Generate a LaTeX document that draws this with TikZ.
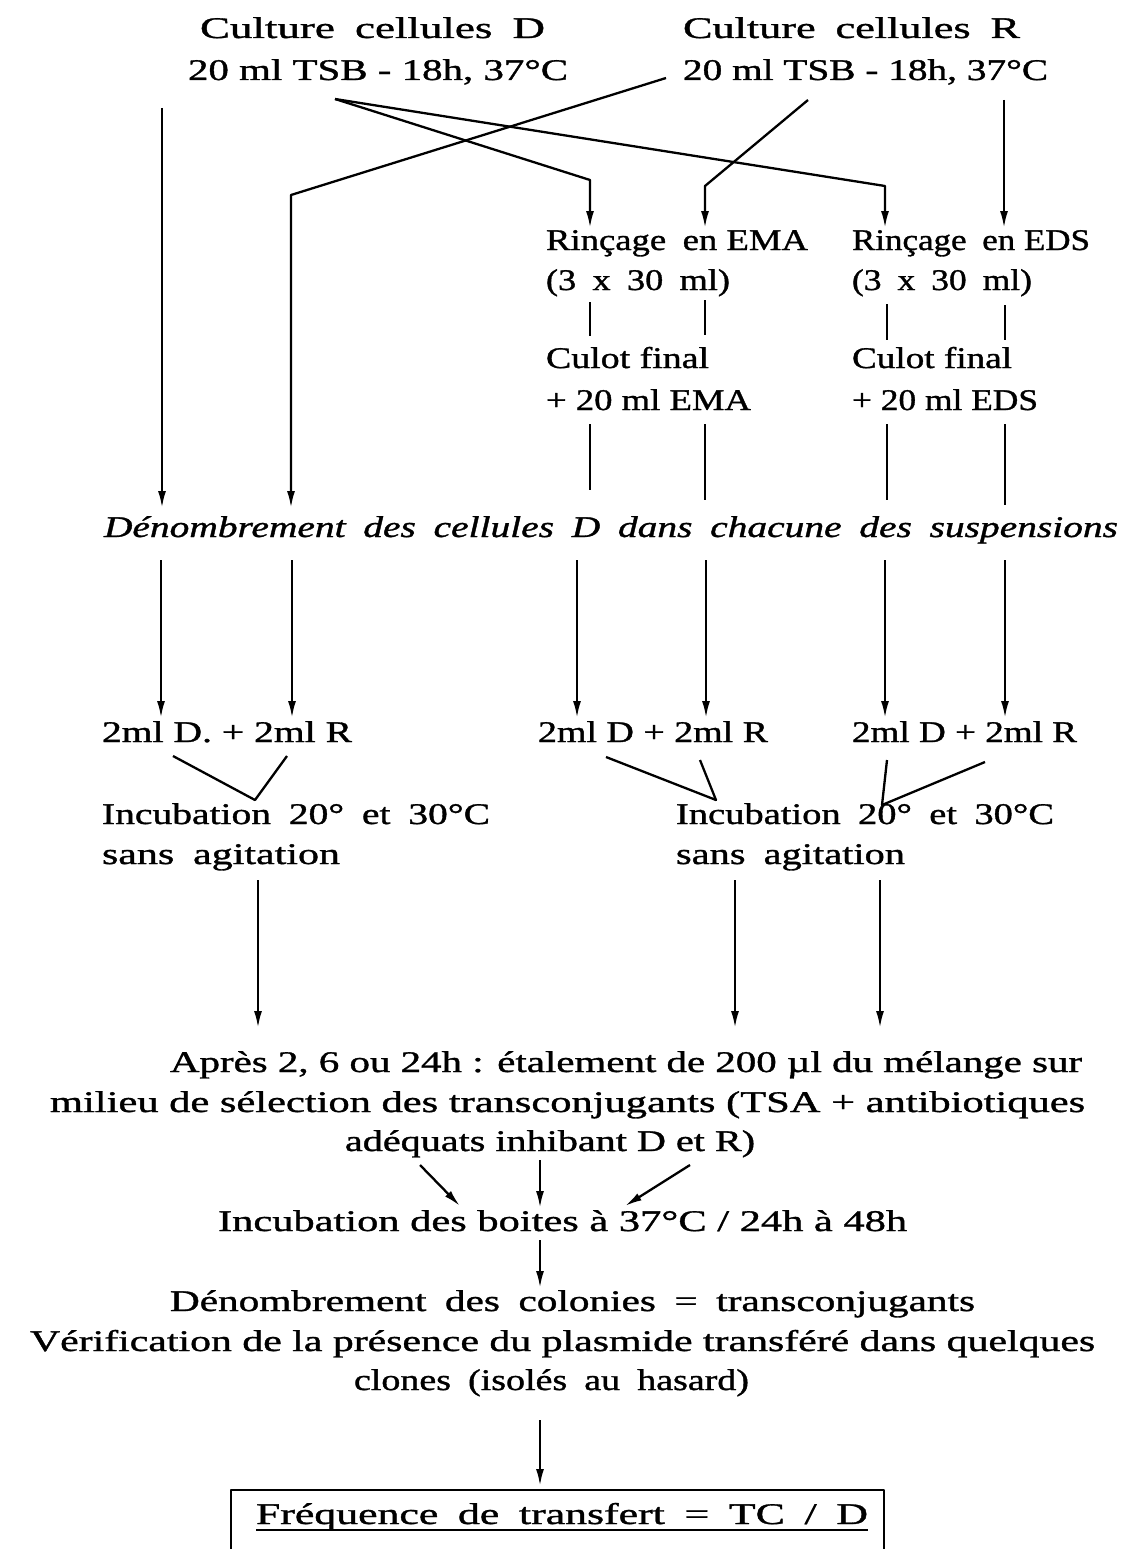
\documentclass[tikz,border=0pt]{standalone}
\usepackage{fontspec}
\usepackage{graphicx}
\setmainfont[FakeBold=1.0]{Liberation Serif}
\usetikzlibrary{arrows.meta}
\newcommand\fl[2]{\resizebox{#1pt}{\height}{#2}}
\newcommand\ws{\hspace{0.45em}}
\begin{document}
\begin{tikzpicture}[x=1pt,y=-1pt,
  t/.style={inner sep=0pt,outer sep=0pt,anchor=base west,font=\fontsize{30}{36}\selectfont},
  ln/.style={line width=2.3pt,line join=round},
  ar/.style={ln,-{Latex[length=17pt,width=8pt]}}]
\useasboundingbox (0,0) rectangle (1120,1549);
\fill[white] (0,0) rectangle (1120,1549);
% top
\node[t] (L1) at (200,38) {\fl{345}{Culture\ws cellules\ws D}};
\node[t] (L2) at (188,80) {\fl{380}{20 ml TSB - 18h, 37°C}};
\node[t] (R1) at (683,38) {\fl{337}{Culture\ws cellules\ws R}};
\node[t] (R2) at (683,80) {\fl{365}{20 ml TSB - 18h, 37°C}};
% rincage
\node[t] (E1) at (546,250) {\fl{262}{Rinçage\ws en EMA}};
\node[t] (E2) at (546,290) {\fl{184}{(3\ws x\ws 30\ws ml)}};
\node[t] (S1) at (852,250) {\fl{238}{Rinçage\ws en EDS}};
\node[t] (S2) at (852,290) {\fl{180}{(3\ws x\ws 30\ws ml)}};
\node[t] (E3) at (546,368) {\fl{163}{Culot final}};
\node[t] (E4) at (546,410) {\fl{205}{+ 20 ml EMA}};
\node[t] (S3) at (852,368) {\fl{160}{Culot final}};
\node[t] (S4) at (852,410) {\fl{186}{+ 20 ml EDS}};
% denombrement
\node[t] (DN) at (104,537) {\fl{1014}{\itshape Dénombrement\ws des\ws cellules\ws D\ws dans\ws chacune\ws des\ws suspensions}};
% mixes
\node[t] (M1) at (102,742) {\fl{250}{2ml D. + 2ml R}};
\node[t] (M2) at (538,742) {\fl{230}{2ml D + 2ml R}};
\node[t] (M3) at (852,742) {\fl{225}{2ml D + 2ml R}};
\node[t] (I1) at (102,824) {\fl{388}{Incubation\ws 20°\ws et\ws 30°C}};
\node[t] (I2) at (102,864) {\fl{238}{sans\ws agitation}};
\node[t] (J1) at (676,824) {\fl{378}{Incubation\ws 20°\ws et\ws 30°C}};
\node[t] (J2) at (676,864) {\fl{229}{sans\ws agitation}};
% apres
\node[t] (A1) at (170,1072) {\fl{912}{Après 2, 6 ou 24h : étalement de 200 µl du mélange sur}};
\node[t] (A2) at (50,1112) {\fl{1035}{milieu de sélection des transconjugants (TSA + antibiotiques}};
\node[t] (A3) at (345,1151) {\fl{410}{adéquats inhibant D et R)}};
\node[t] (B1) at (218,1231) {\fl{689}{Incubation des boites à 37°C / 24h à 48h}};
\node[t] (C1) at (170,1311) {\fl{805}{Dénombrement\ws des\ws colonies\ws =\ws transconjugants}};
\node[t] (C2) at (30,1351) {\fl{1065}{Vérification de la présence du plasmide transféré dans quelques}};
\node[t] (C3) at (354,1390) {\fl{395}{clones\ws (isolés\ws au\ws hasard)}};
\node[t] (F) at (256,1524) {\fl{612}{Fréquence\ws de\ws transfert\ws =\ws TC\ws /\ws D}};
\draw[line width=2pt] ([yshift=-6pt]F.base west) -- ([yshift=-6pt]F.base east);
\draw[ln] (231,1560) -- (231,1490) -- (884,1490) -- (884,1560);
% coordinates
\coordinate (d0) at (162,108);  \coordinate (d0e) at (162,508);
\coordinate (dA) at (335,99);
\coordinate (k1) at (590,180);  \coordinate (k1e) at (590,228);
\coordinate (k2) at (885,186);  \coordinate (k2e) at (885,228);
\coordinate (rA) at (666,78);   \coordinate (k3) at (291,195); \coordinate (k3e) at (291,508);
\coordinate (rB) at (808,100);  \coordinate (k4) at (705,186); \coordinate (k4e) at (705,228);
\coordinate (rC) at (1004,100); \coordinate (rCe) at (1004,228);
\draw[ar] (d0) -- (d0e);
\draw[ar] (dA) -- (k1) -- (k1e);
\draw[ar] (dA) -- (k2) -- (k2e);
\draw[ar] (rA) -- (k3) -- (k3e);
\draw[ar] (rB) -- (k4) -- (k4e);
\draw[ar] (rC) -- (rCe);
% ticks
\foreach \x/\a/\b in {590/302/336,705/300/335,887/304/340,1005/305/340,590/424/490,705/424/500,887/424/500,1005/424/505}
  \draw[ln] (\x,\a) -- (\x,\b);
% arrows to mixes
\foreach \x in {161,292,577,706,885,1005}
  \draw[ar] (\x,560) -- (\x,718);
% V shapes
\coordinate (v1a) at (173,756); \coordinate (v1) at (255,800); \coordinate (v1b) at (287,756);
\coordinate (v2a) at (606,757); \coordinate (v2) at (716,800); \coordinate (v2b) at (700,760);
\coordinate (v3a) at (887,760); \coordinate (v3) at (882,805); \coordinate (v3b) at (985,762);
\draw[ln] (v1a) -- (v1) -- (v1b);
\draw[ln] (v2a) -- (v2) -- (v2b);
\draw[ln] (v3a) -- (v3) -- (v3b);
% to apres
\foreach \x in {258,735,880}
  \draw[ar] (\x,880) -- (\x,1028);
\draw[ar] (420,1165) -- (460,1206);
\draw[ar] (540,1160) -- (540,1208);
\draw[ar] (690,1165) -- (625,1206);
\draw[ar] (540,1240) -- (540,1288);
\draw[ar] (540,1420) -- (540,1486);
\end{tikzpicture}
\end{document}
